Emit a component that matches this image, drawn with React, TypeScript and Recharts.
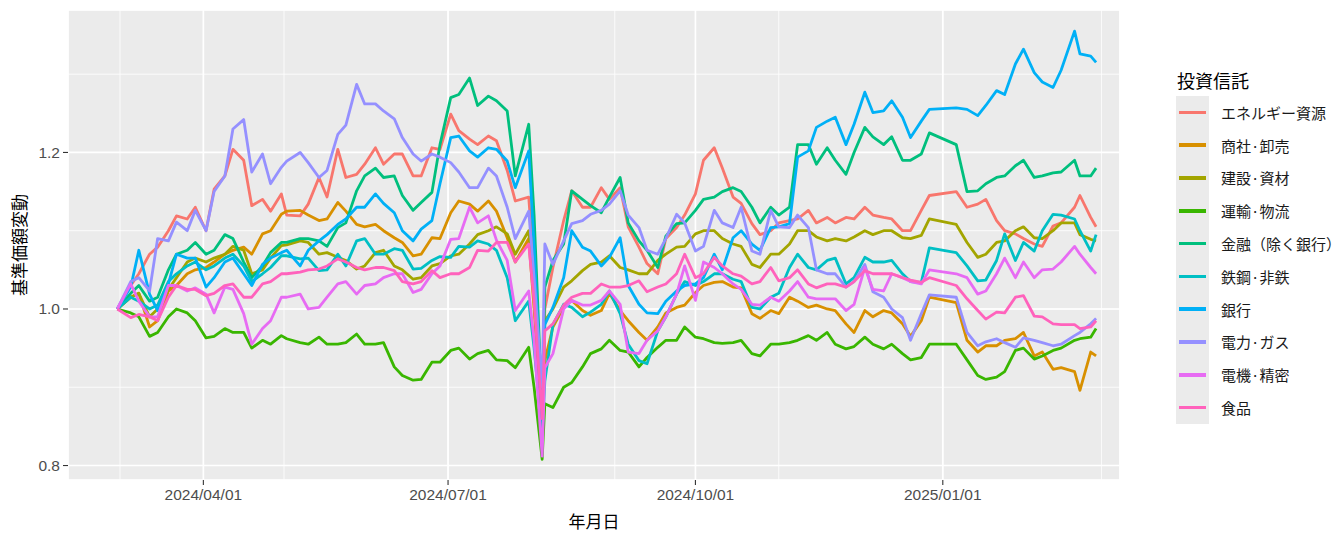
import React from 'react';
import { LineChart, Line, XAxis, YAxis, CartesianGrid } from 'recharts';

// trading days sampled about twice a week, one row per month
const dates = [
  '2024-02-29', '2024-03-05', '2024-03-08', '2024-03-12', '2024-03-15', '2024-03-19', '2024-03-22', '2024-03-26', '2024-03-29',
  '2024-04-02', '2024-04-05', '2024-04-09', '2024-04-12', '2024-04-16', '2024-04-19', '2024-04-23', '2024-04-26', '2024-04-30',
  '2024-05-02', '2024-05-07', '2024-05-10', '2024-05-14', '2024-05-17', '2024-05-21', '2024-05-24', '2024-05-28', '2024-05-31',
  '2024-06-04', '2024-06-07', '2024-06-11', '2024-06-14', '2024-06-18', '2024-06-21', '2024-06-25', '2024-06-28',
  '2024-07-02', '2024-07-05', '2024-07-09', '2024-07-12', '2024-07-16', '2024-07-19', '2024-07-23', '2024-07-26', '2024-07-31',
  '2024-08-02', '2024-08-05', '2024-08-06', '2024-08-09', '2024-08-13', '2024-08-16', '2024-08-20', '2024-08-23', '2024-08-27', '2024-08-30',
  '2024-09-03', '2024-09-06', '2024-09-10', '2024-09-13', '2024-09-17', '2024-09-20', '2024-09-24', '2024-09-27',
  '2024-10-01', '2024-10-04', '2024-10-08', '2024-10-11', '2024-10-15', '2024-10-18', '2024-10-22', '2024-10-25', '2024-10-29',
  '2024-11-01', '2024-11-05', '2024-11-08', '2024-11-12', '2024-11-15', '2024-11-19', '2024-11-22', '2024-11-26', '2024-11-29',
  '2024-12-03', '2024-12-06', '2024-12-10', '2024-12-13', '2024-12-17', '2024-12-20', '2024-12-24', '2024-12-27',
  '2025-01-06', '2025-01-10', '2025-01-14', '2025-01-17', '2025-01-21', '2025-01-24', '2025-01-28', '2025-01-31',
  '2025-02-04', '2025-02-07', '2025-02-11', '2025-02-14', '2025-02-19', '2025-02-21', '2025-02-25', '2025-02-27',
];

const energy = [
  1.0, 1.03, 1.045, 1.07, 1.079, 1.10, 1.119, 1.115, 1.13,
  1.10, 1.153, 1.17, 1.204, 1.19, 1.132, 1.14, 1.125, 1.147,
  1.12, 1.119, 1.134, 1.168, 1.143, 1.204, 1.168, 1.172, 1.185,
  1.206, 1.185, 1.198, 1.198, 1.17, 1.17, 1.206, 1.204,
  1.249, 1.228, 1.217, 1.21, 1.221, 1.215, 1.177, 1.138, 1.143,
  1.05, 0.875, 1.0, 1.053, 1.113, 1.151, 1.13, 1.13, 1.155, 1.14,
  1.155, 1.105, 1.079, 1.058, 1.045, 1.09, 1.104, 1.12,
  1.147, 1.19, 1.206, 1.18, 1.143, 1.135, 1.109, 1.095, 1.1,
  1.11, 1.113, 1.115, 1.126, 1.11, 1.117, 1.11, 1.117, 1.115,
  1.13, 1.12, 1.117, 1.115, 1.1, 1.1, 1.126, 1.145,
  1.15, 1.13, 1.134, 1.14, 1.113, 1.1, 1.096, 1.09,
  1.083, 1.08, 1.106, 1.11, 1.13, 1.145, 1.117, 1.105,
];
const trading = [
  1.0, 1.015, 1.02, 0.977, 0.985, 1.023, 1.03, 1.045, 1.05,
  1.053, 1.06, 1.07, 1.075, 1.079, 1.07, 1.096, 1.1, 1.121,
  1.125, 1.126, 1.12, 1.113, 1.115, 1.136, 1.125, 1.108, 1.105,
  1.108, 1.1, 1.091, 1.085, 1.068, 1.07, 1.091, 1.09,
  1.123, 1.138, 1.134, 1.125, 1.138, 1.125, 1.091, 1.06, 1.09,
  1.0, 0.85, 0.934, 0.977, 1.002, 1.011, 0.998, 0.992, 0.998, 1.02,
  0.998, 0.985, 0.97, 0.96, 0.977, 0.995, 1.002, 1.005,
  1.021, 1.03, 1.034, 1.035, 1.028, 1.027, 0.994, 0.988, 0.998,
  0.994, 1.015, 1.01, 1.002, 1.005, 1.0, 0.998, 0.981, 0.97,
  0.998, 0.99, 0.998, 0.995, 0.981, 0.965, 0.985, 1.015,
  1.008, 0.96, 0.945, 0.953, 0.953, 0.96, 0.962, 0.97,
  0.94, 0.945, 0.923, 0.925, 0.92, 0.896, 0.945, 0.94,
];
const construction = [
  1.0, 1.015, 1.02, 0.99, 1.0, 1.025, 1.04, 1.06, 1.065,
  1.06, 1.065, 1.07, 1.08, 1.075, 1.045, 1.05, 1.065, 1.081,
  1.082, 1.087, 1.085, 1.07, 1.072, 1.066, 1.062, 1.051, 1.055,
  1.072, 1.075, 1.055, 1.05, 1.038, 1.04, 1.055, 1.058,
  1.068, 1.07, 1.083, 1.095, 1.1, 1.105, 1.096, 1.07, 1.1,
  1.02, 0.86, 0.985, 1.0, 1.028, 1.036, 1.049, 1.057, 1.06, 1.068,
  1.053, 1.05, 1.045, 1.045, 1.062, 1.07, 1.079, 1.08,
  1.096, 1.1, 1.1, 1.09, 1.083, 1.08, 1.057, 1.053, 1.07,
  1.07, 1.083, 1.1, 1.1, 1.092, 1.087, 1.09, 1.087, 1.092,
  1.1, 1.095, 1.1, 1.1, 1.091, 1.09, 1.094, 1.115,
  1.108, 1.085, 1.066, 1.07, 1.085, 1.087, 1.1, 1.105,
  1.091, 1.09, 1.1, 1.11, 1.11, 1.095, 1.089, 1.087,
];
const transport = [
  1.0, 0.995, 0.99, 0.965, 0.97, 0.99, 1.0, 0.995, 0.985,
  0.963, 0.965, 0.975, 0.97, 0.97, 0.95, 0.96, 0.955, 0.966,
  0.962, 0.957, 0.955, 0.964, 0.955, 0.955, 0.957, 0.968, 0.955,
  0.955, 0.957, 0.926, 0.915, 0.909, 0.91, 0.932, 0.932,
  0.947, 0.95, 0.936, 0.943, 0.947, 0.935, 0.934, 0.925, 0.951,
  0.9, 0.808, 0.879, 0.874, 0.9, 0.906, 0.926, 0.943, 0.949, 0.96,
  0.947, 0.945, 0.926, 0.938, 0.951, 0.96, 0.96, 0.977,
  0.964, 0.962, 0.957, 0.956, 0.957, 0.96, 0.943, 0.94, 0.955,
  0.955, 0.957, 0.96, 0.966, 0.96, 0.97, 0.955, 0.949, 0.952,
  0.964, 0.955, 0.949, 0.955, 0.943, 0.935, 0.938, 0.955,
  0.955, 0.935, 0.915, 0.91, 0.913, 0.92, 0.947, 0.95,
  0.936, 0.94, 0.947, 0.95, 0.96, 0.962, 0.964, 0.975,
];
const finance = [
  1.0, 1.02, 1.03, 1.01, 1.015, 1.05, 1.07, 1.075, 1.085,
  1.07, 1.075, 1.095, 1.09, 1.06, 1.04, 1.055, 1.072, 1.085,
  1.085, 1.09, 1.09, 1.087, 1.08, 1.104, 1.11, 1.151, 1.17,
  1.18, 1.168, 1.17, 1.145, 1.126, 1.136, 1.149, 1.21,
  1.27, 1.274, 1.295, 1.26, 1.272, 1.266, 1.253, 1.17, 1.236,
  1.12, 0.87, 1.028, 1.062, 1.083, 1.151, 1.14, 1.132, 1.123, 1.143,
  1.168, 1.11, 1.087, 1.075, 1.053, 1.093, 1.109, 1.11,
  1.126, 1.14, 1.143, 1.15, 1.155, 1.15, 1.13, 1.11, 1.13,
  1.12, 1.13, 1.21, 1.21, 1.185, 1.206, 1.19, 1.172, 1.2,
  1.232, 1.22, 1.21, 1.22, 1.19, 1.19, 1.198, 1.225,
  1.21, 1.15, 1.151, 1.16, 1.168, 1.17, 1.183, 1.19,
  1.168, 1.17, 1.174, 1.175, 1.19, 1.17, 1.17, 1.18,
];
const steel = [
  1.0, 1.015, 1.01, 1.0, 1.005, 1.035, 1.045, 1.055, 1.06,
  1.05, 1.055, 1.065, 1.07, 1.055, 1.035, 1.045, 1.053, 1.068,
  1.068, 1.064, 1.065, 1.049, 1.05, 1.07, 1.055, 1.087, 1.09,
  1.07, 1.07, 1.077, 1.075, 1.051, 1.052, 1.062, 1.067,
  1.066, 1.08, 1.079, 1.087, 1.083, 1.075, 1.04, 0.985, 1.01,
  0.95, 0.84, 0.908, 0.98, 1.006, 1.002, 0.99, 0.996, 1.006, 1.023,
  0.994, 0.955, 0.934, 0.93, 0.972, 0.99, 1.019, 1.035,
  1.03, 1.035, 1.045, 1.045, 1.038, 1.035, 1.002, 1.0, 1.015,
  1.02, 1.053, 1.07, 1.053, 1.05, 1.062, 1.065, 1.032, 1.04,
  1.066, 1.06, 1.06, 1.062, 1.045, 1.035, 1.034, 1.078,
  1.072, 1.055, 1.036, 1.037, 1.062, 1.096, 1.062, 1.085,
  1.074, 1.1, 1.121, 1.12, 1.115, 1.1, 1.074, 1.095,
];
const banks = [
  1.0, 1.028, 1.075, 1.019, 0.998, 1.032, 1.07, 1.065, 1.065,
  1.028, 1.04, 1.06, 1.065, 1.045, 1.03, 1.057, 1.065, 1.072,
  1.075, 1.055, 1.075, 1.087, 1.095, 1.108, 1.115, 1.13, 1.13,
  1.147, 1.135, 1.123, 1.1, 1.087, 1.102, 1.113, 1.16,
  1.219, 1.221, 1.202, 1.194, 1.206, 1.204, 1.189, 1.155, 1.202,
  1.08, 0.86, 0.98, 1.002, 1.04, 1.1, 1.079, 1.074, 1.055, 1.066,
  1.091, 1.03, 1.006, 0.995, 0.994, 1.01, 1.023, 1.03,
  1.032, 1.04, 1.07, 1.05, 1.091, 1.1, 1.083, 1.075, 1.104,
  1.105, 1.109, 1.194, 1.202, 1.232, 1.24, 1.245, 1.21, 1.236,
  1.277, 1.251, 1.253, 1.266, 1.245, 1.219, 1.24, 1.255,
  1.257, 1.255, 1.247, 1.26, 1.279, 1.274, 1.313, 1.332,
  1.302, 1.29, 1.283, 1.305, 1.355, 1.326, 1.323, 1.315,
];
const power = [
  1.0, 1.035, 1.04, 1.023, 1.09, 1.087, 1.111, 1.1, 1.126,
  1.1, 1.15, 1.17, 1.23, 1.242, 1.175, 1.198, 1.16, 1.181,
  1.189, 1.2, 1.187, 1.168, 1.177, 1.223, 1.235, 1.287, 1.262,
  1.262, 1.253, 1.243, 1.219, 1.198, 1.189, 1.198, 1.194,
  1.187, 1.175, 1.155, 1.155, 1.18, 1.17, 1.13, 1.09, 1.125,
  1.04, 0.9, 1.083, 1.057, 1.087, 1.109, 1.113, 1.121, 1.126, 1.134,
  1.151, 1.12, 1.104, 1.075, 1.07, 1.09, 1.121, 1.11,
  1.074, 1.08, 1.126, 1.11, 1.104, 1.13, 1.074, 1.07, 1.126,
  1.105, 1.104, 1.12, 1.104, 1.05, 1.045, 1.045, 1.028, 1.035,
  1.057, 1.022, 1.015, 1.0, 0.989, 0.96, 0.994, 1.018,
  1.015, 0.97, 0.953, 0.958, 0.962, 0.957, 0.951, 0.963,
  0.96, 0.957, 0.953, 0.955, 0.966, 0.97, 0.981, 0.988,
];
const electric = [
  1.0, 1.032, 1.01, 0.99, 0.99, 1.03, 1.03, 1.023, 1.027,
  1.019, 0.995, 1.028, 1.025, 0.994, 0.955, 0.975, 0.985, 1.015,
  1.015, 1.019, 1.0, 1.002, 1.015, 1.032, 1.035, 1.019, 1.03,
  1.032, 1.04, 1.045, 1.045, 1.021, 1.025, 1.045, 1.055,
  1.089, 1.09, 1.13, 1.11, 1.119, 1.088, 1.062, 0.998, 1.023,
  0.96, 0.812, 0.925, 0.943, 1.0, 1.011, 1.005, 1.005, 1.011, 1.023,
  1.006, 0.945, 0.943, 0.96, 0.972, 0.99, 1.019, 1.055,
  1.011, 1.06, 1.053, 1.045, 1.032, 1.025, 1.006, 1.005, 1.015,
  1.01, 1.023, 1.035, 1.015, 1.013, 1.013, 1.013, 0.998, 1.006,
  1.053, 1.025, 1.023, 1.045, 1.04, 1.035, 1.032, 1.05,
  1.045, 1.04, 1.019, 1.023, 1.045, 1.065, 1.04, 1.06,
  1.04, 1.05, 1.051, 1.06, 1.08, 1.07, 1.053, 1.045,
];
const food = [
  1.0, 0.989, 0.993, 0.99, 0.985, 1.015, 1.03, 1.025, 1.025,
  1.017, 1.02, 1.03, 1.032, 1.015, 1.015, 1.032, 1.035, 1.045,
  1.045, 1.047, 1.05, 1.051, 1.055, 1.064, 1.06, 1.053, 1.05,
  1.053, 1.053, 1.049, 1.035, 1.032, 1.035, 1.049, 1.04,
  1.045, 1.045, 1.053, 1.075, 1.074, 1.085, 1.085, 1.06, 1.083,
  1.01, 0.86, 0.972, 0.981, 1.005, 1.015, 1.02, 1.02, 1.032, 1.028,
  1.028, 1.03, 1.036, 1.022, 1.028, 1.032, 1.045, 1.07,
  1.04, 1.045, 1.066, 1.055, 1.045, 1.042, 1.032, 1.035, 1.053,
  1.036, 1.04, 1.05, 1.032, 1.027, 1.032, 1.032, 1.028, 1.035,
  1.049, 1.045, 1.045, 1.045, 1.04, 1.037, 1.034, 1.04,
  1.03, 1.013, 0.998, 0.987, 0.996, 0.995, 1.015, 1.017,
  0.991, 0.99, 0.981, 0.98, 0.98, 0.975, 0.977, 0.985,
];

const majorTicks = ['2024-04-01', '2024-07-01', '2024-10-01', '2025-01-01'];
const minorTicks = [
  '2024-03-01', '2024-04-01', '2024-05-01', '2024-06-01', '2024-07-01', '2024-08-01', '2024-09-01',
  '2024-10-01', '2024-11-01', '2024-12-01', '2025-01-01', '2025-02-01', '2025-03-01',
];
const yMajor = [0.8, 1.0, 1.2];
const yMinor = [0.8, 0.9, 1.0, 1.1, 1.2, 1.3];

const SERIES = [
  { key: 'energy', name: 'エネルギー資源', color: '#F8766D', values: energy },
  { key: 'trading', name: '商社·卸売', color: '#D89000', values: trading },
  { key: 'construction', name: '建設·資材', color: '#A3A500', values: construction },
  { key: 'transport', name: '運輸·物流', color: '#39B600', values: transport },
  { key: 'finance', name: '金融（除く銀行）', color: '#00BF7D', values: finance },
  { key: 'steel', name: '鉄鋼·非鉄', color: '#00BFC4', values: steel },
  { key: 'banks', name: '銀行', color: '#00B0F6', values: banks },
  { key: 'power', name: '電力·ガス', color: '#9590FF', values: power },
  { key: 'electric', name: '電機·精密', color: '#E76BF3', values: electric },
  { key: 'food', name: '食品', color: '#FF62BC', values: food },
];

const data = dates.map((d, i) => {
  const row: Record<string, number> = { t: Date.parse(d) };
  SERIES.forEach((s) => { row[s.key] = s.values[i]; });
  return row;
});

const DAY = 86400000;
const T0 = Date.parse('2024-03-01');
const xDomain = [T0 - 19.34 * DAY, T0 + 371.9 * DAY];
const yDomain = [0.7815, 1.382];

const pad = (n: number) => String(n).padStart(2, '0');
const fmtDate = (t: number) => {
  const d = new Date(t);
  return `${d.getUTCFullYear()}/${pad(d.getUTCMonth() + 1)}/${pad(d.getUTCDate())}`;
};

const tickStyle = { fill: '#4D4D4D', fontSize: 15.5, fontFamily: "'Liberation Sans', Arial, sans-serif" };
const jp = "'Noto Sans CJK JP', 'Noto Sans', sans-serif";

export default function App() {
  return (
    <div style={{ position: 'relative', width: 1325, height: 525, fontFamily: jp }}>
      <LineChart width={1130} height={525} data={data} margin={{ top: 2, right: 18, bottom: 3, left: 0 }}>
        <XAxis xAxisId="minor" dataKey="t" type="number" domain={xDomain} allowDataOverflow
          ticks={minorTicks.map((d) => Date.parse(d))} hide />
        <YAxis yAxisId="minor" type="number" domain={yDomain} allowDataOverflow ticks={yMinor} hide />
        <XAxis xAxisId="major" dataKey="t" type="number" domain={xDomain} allowDataOverflow
          ticks={majorTicks.map((d) => Date.parse(d))} tickFormatter={fmtDate}
          axisLine={false} tickSize={5} tickMargin={4} height={50}
          tickLine={{ stroke: '#333333', strokeWidth: 1.1 }} tick={tickStyle}
          label={{ value: '年月日', position: 'insideBottom', offset: 2, fill: '#000', fontSize: 17, fontFamily: jp }} />
        <YAxis yAxisId="major" type="number" domain={yDomain} allowDataOverflow ticks={yMajor}
          tickFormatter={(v: number) => v.toFixed(1)} width={60}
          axisLine={false} tickSize={5} tickMargin={3}
          tickLine={{ stroke: '#333333', strokeWidth: 1.1 }} tick={tickStyle} />
        <CartesianGrid xAxisId="minor" yAxisId="minor" fill="#EBEBEB" fillOpacity={1} stroke="#FFFFFF" strokeWidth={0.8} />
        <CartesianGrid xAxisId="major" yAxisId="major" stroke="#FFFFFF" strokeWidth={1.7} />
        {SERIES.map((s) => (
          <Line key={s.key} xAxisId="major" yAxisId="major" type="linear" dataKey={s.key} name={s.name}
            stroke={s.color} strokeWidth={2.8} dot={false} activeDot={false}
            strokeLinejoin="round" isAnimationActive={false} />
        ))}
      </LineChart>
      {/* y axis title, read bottom to top */}
      <div style={{
        position: 'absolute', left: 0, top: 186, height: 102, width: 20,
        display: 'flex', alignItems: 'center', justifyContent: 'center',
        writingMode: 'vertical-rl', textOrientation: 'sideways', transform: 'rotate(180deg)',
        fontSize: 17, color: '#000', whiteSpace: 'nowrap',
      }}>基準価額変動</div>
      <div style={{ position: 'absolute', left: 1169, top: 61, fontSize: 18, color: '#000', lineHeight: '22px' }}>投資信託</div>
      <div style={{ position: 'absolute', left: 1168, top: 88, width: 33, height: 328, background: '#EBEBEB' }} />
      {SERIES.map((s, i) => (
        <div key={s.key} style={{ position: 'absolute', left: 1168, top: 88 + i * 32.8, height: 32.8, display: 'flex', alignItems: 'center' }}>
          <div style={{ width: 27, height: 3.5, marginLeft: 3, background: s.color }} />
          <div style={{ marginLeft: 15, fontSize: 15, color: '#1A1A1A', whiteSpace: 'nowrap' }}>{s.name}</div>
        </div>
      ))}
    </div>
  );
}
